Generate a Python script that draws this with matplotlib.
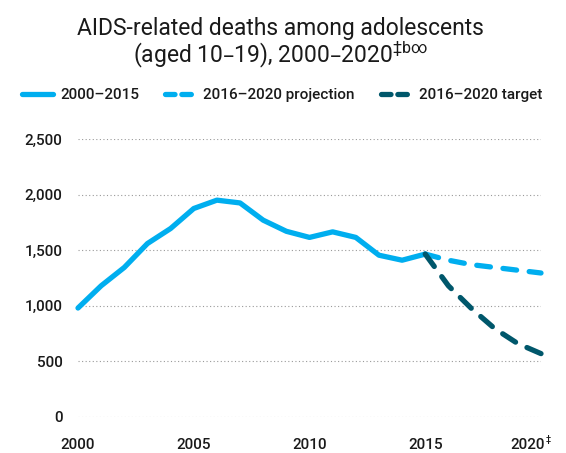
import matplotlib
matplotlib.use("Agg")
import matplotlib.pyplot as plt
from matplotlib.lines import Line2D
from matplotlib.transforms import ScaledTranslation

plt.rcParams['font.family'] = ['Roboto', 'DejaVu Sans']

years_hist = [2000, 2001, 2002, 2003, 2004, 2005, 2006, 2007, 2008, 2009,
              2010, 2011, 2012, 2013, 2014, 2015]
deaths_hist = [980, 1180, 1345, 1560, 1695, 1875, 1950, 1925, 1770, 1670,
               1615, 1665, 1615, 1455, 1410, 1465]
years_proj = [2015, 2016, 2017, 2018, 2019, 2020]
deaths_proj = [1465, 1410, 1370, 1345, 1320, 1295]
years_target = [2015, 2016, 2017, 2018, 2019, 2020]
deaths_target = [1465, 1180, 975, 795, 660, 570]

xticks = [2000, 2005, 2010, 2015, 2020]
xtick_labels = ["2000", "2005", "2010", "2015", "2020"]
yticks = [0, 500, 1000, 1500, 2000, 2500]
ytick_labels = ["0", "500", "1,000", "1,500", "2,000", "2,500"]

title1 = "AIDS-related deaths among adolescents"
title2 = r"(aged 10–19), 2000–2020$^{\mathregular{‡b∞}}$"
legend_labels = ["2000–2015", "2016–2020 projection", "2016–2020 target"]

c_light = "#00AEEF"
c_dark = "#00576B"
lw = 3.8
txt = '#1a1a1a'

fig = plt.figure(figsize=(5.66, 4.53), dpi=100)
ax = fig.add_axes([78/566, 1-417/453, (541-78)/566, (417-139)/453])

ax.plot(years_hist, deaths_hist, color=c_light, lw=lw, solid_capstyle='round',
        solid_joinstyle='round', clip_on=False, zorder=3)
ax.plot(years_proj, deaths_proj, color=c_light, lw=lw, dashes=(2.6, 2.4),
        dash_capstyle='round', clip_on=False, zorder=3)
ax.plot(years_target, deaths_target, color=c_dark, lw=lw, dashes=(2.9, 2.4),
        dash_capstyle='round', clip_on=False, zorder=4)

ax.set_xlim(2000, 2020)
ax.set_ylim(0, 2500)
for s in ax.spines.values():
    s.set_visible(False)
ax.set_yticks(yticks)
ax.set_yticklabels(ytick_labels, fontweight=500)
ax.set_xticks(xticks)
ax.set_xticklabels(xtick_labels, fontweight=500)
ax.tick_params(axis='both', length=0, labelsize=11, colors=txt)
ax.tick_params(axis='y', pad=11)
ax.tick_params(axis='x', pad=15)
ax.grid(axis='y', linestyle=(0, (1, 2.2)), color='#9a9a9a', lw=0.8)
ax.grid(axis='x', visible=False)
ax.set_axisbelow(True)

last = ax.get_xticklabels()[-1]
last.set_ha('right')
last.set_transform(last.get_transform() + ScaledTranslation(4/100, 0, fig.dpi_scale_trans))
ax.annotate("‡", xy=(1, 0), xycoords='axes fraction', xytext=(3.0, -16),
            textcoords='offset points', fontsize=6.5, color=txt,
            ha='left', va='center', fontweight=500)

fig.text(0.496, 1-28/453, title1, ha='center', va='center', fontsize=16.5,
         color=txt)
fig.text(0.496, 1-55/453, title2, ha='center', va='center', fontsize=16.5,
         color=txt)

handles = [
    Line2D([], [], color=c_light, lw=lw, solid_capstyle='round'),
    Line2D([], [], color=c_light, lw=lw, dashes=(1.8, 1.3), dash_capstyle='round'),
    Line2D([], [], color=c_dark, lw=lw, dashes=(1.8, 1.3), dash_capstyle='round'),
]
leg = fig.legend(handles, legend_labels, loc='center left',
                 bbox_to_anchor=(22/566, 1-95/453), ncol=3, frameon=False,
                 fontsize=11, handlelength=2.0, handletextpad=0.5,
                 columnspacing=1.7, borderpad=0, borderaxespad=0,
                 labelcolor=txt)
for t in leg.get_texts():
    t.set_fontweight(500)

fig.savefig("out.png", dpi=100)
